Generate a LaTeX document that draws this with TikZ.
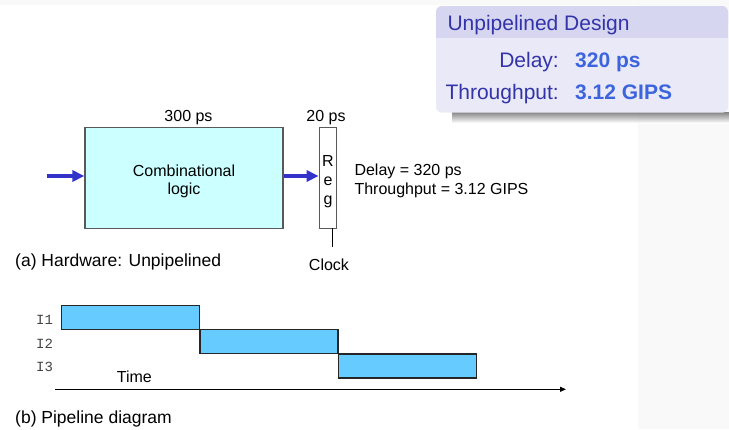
\documentclass[tikz,border=0pt]{standalone}
\usepackage{fontspec}
\setmainfont{Liberation Sans}
\setmonofont{Liberation Mono}
\usetikzlibrary{arrows.meta}
\definecolor{hdrbg}{RGB}{214,214,240}
\definecolor{bodybg}{RGB}{233,233,248}
\definecolor{hdrtxt}{RGB}{51,51,170}
\definecolor{valtxt}{RGB}{60,100,220}
\definecolor{combfill}{RGB}{204,255,255}
\definecolor{pipefill}{RGB}{102,204,255}
\definecolor{arrblue}{RGB}{51,51,204}
\definecolor{panelgray}{RGB}{249,249,249}
\definecolor{lblgray}{RGB}{68,68,68}
\tikzset{
  txt/.style={inner sep=0pt, font=\fontsize{16}{19}\selectfont},
  captxt/.style={inner sep=0pt, font=\fontsize{17.5}{21}\selectfont},
  boxtxt/.style={inner sep=0pt, font=\fontsize{21}{25}\selectfont, text=hdrtxt},
  valtxtst/.style={inner sep=0pt, font=\fontsize{21}{25}\selectfont\bfseries, text=valtxt},
  hwbox/.style={draw=black!65, line width=1.2pt, inner sep=0pt},
  pipebox/.style={draw=black!85, line width=1.2pt, fill=pipefill, inner sep=0pt, minimum width=138pt, minimum height=24pt},
  bluearrow/.style={draw=arrblue, line width=4pt, -{Triangle[length=12pt,width=11pt]}},
  ilabel/.style={inner sep=0pt, font=\fontsize{14}{16}\selectfont\ttfamily, text=lblgray},
}
\begin{document}
\begin{tikzpicture}[x=1pt,y=-1pt]
\useasboundingbox (0,0) rectangle (729,429);
% background panels
\fill[panelgray] (0,0) rectangle (729,4.5);
\fill[panelgray] (638,0) rectangle (729,429);
% shadow of the summary box
\shade[top color=black!60, bottom color=white, opacity=0.8] (452,112) rectangle (729,123);
% summary box
\fill[bodybg, rounded corners=6pt] (436,6) rectangle (728,112.7);
\fill[hdrbg, rounded corners=6pt] (436,6) rectangle (728,30);
\fill[hdrbg] (436,20) rectangle (728,38.3);
\node[boxtxt, anchor=base west] (hdr) at (447.3,30.7) {Unpipelined Design};
\node[boxtxt, anchor=base east] (dl) at (559,67.7) {Delay:};
\node[valtxtst, anchor=base west] (dv) at (575,67.7) {320 ps};
\node[boxtxt, anchor=base east] (tl) at (559,99) {Throughput:};
\node[valtxtst, anchor=base west] (tv) at (575,99) {3.12 GIPS};
% hardware
\node[hwbox, fill=combfill, minimum width=198pt, minimum height=101pt] (comb) at (184,177.8) {};
\node[txt, anchor=base] (c1) at (184,176) {Combinational};
\node[txt, anchor=base] (c2) at (184,194) {logic};
\node[hwbox, fill=white, minimum width=17.5pt, minimum height=101pt] (reg) at (328,177.8) {};
\node[txt, anchor=base] (r1) at (328,166.7) {R};
\node[txt, anchor=base] (r2) at (328,185.7) {e};
\node[txt, anchor=base] (r3) at (328,204.5) {g};
\node[txt, anchor=base] (t300) at (188.5,121) {300 ps};
\node[txt, anchor=base] (t20) at (326,121) {20 ps};
\coordinate (inA) at (46.7,176);
\draw[bluearrow] (inA) -- (comb.west |- inA);
\draw[bluearrow] (comb.east |- inA) -- (reg.west |- inA);
\coordinate (clkTop) at (332,228.3);
\coordinate (clkBot) at (332,247);
\draw[black, line width=1pt] (clkTop) -- (clkBot);
\node[txt, anchor=base] (clk) at (329,270.7) {Clock};
\node[txt, anchor=base west] (d1) at (354.3,175.3) {Delay = 320 ps};
\node[txt, anchor=base west] (d2) at (354.3,194) {Throughput = 3.12 GIPS};
\node[captxt, anchor=base west] (capa) at (15,266) {(a) Hardware: Unpipelined};
% pipeline diagram
\node[pipebox, anchor=north west] (p1) at (61,305) {};
\node[pipebox, anchor=north west] (p2) at (199.3,329.2) {};
\node[pipebox, anchor=north west] (p3) at (337.6,353.3) {};
\node[ilabel, anchor=base west] (i1) at (36,324.3) {I1};
\node[ilabel, anchor=base west] (i2) at (36,348.3) {I2};
\node[ilabel, anchor=base west] (i3) at (36,371.7) {I3};
\node[txt, anchor=base west] (time) at (116.7,382.3) {Time};
\coordinate (ax0) at (55,389.3);
\coordinate (ax1) at (566,389.3);
\draw[black, line width=1.1pt, -{Triangle[length=6pt,width=5pt]}] (ax0) -- (ax1);
\node[captxt, anchor=base west] (capb) at (15,423.3) {(b) Pipeline diagram};
\end{tikzpicture}
\end{document}
